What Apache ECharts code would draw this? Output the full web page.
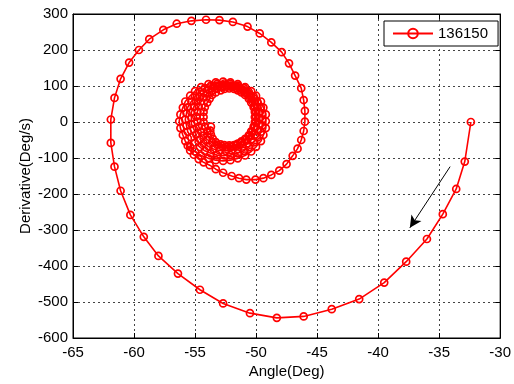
<!DOCTYPE html>
<html>
<head>
<meta charset="utf-8">
<script src="https://cdn.jsdelivr.net/npm/echarts@6.0.0/dist/echarts.min.js"></script>
<style>
  html, body { margin: 0; padding: 0; background: #fff; }
  #chart { width: 514px; height: 384px; }
</style>
</head>
<body>
<div id="chart"></div>
<script>
/** outer swing: angle (deg) and its derivative (deg/s) */
const outerAngle = [
  -32.4, -32.9, -33.6, -34.7, -36.0, -37.7, -39.5, -41.55, -43.8, -46.1,
  -48.3, -50.5, -52.7, -54.6, -56.4, -58.0, -59.2, -60.3, -61.1, -61.6,
  -61.9, -61.9, -61.6, -61.1, -60.4, -59.6, -58.75, -57.6, -56.5, -55.3,
  -54.1, -53.0, -51.9, -50.7, -49.7, -48.75, -47.9, -47.3, -46.8, -46.3,
  -46.1, -46.0, -46.0, -46.1, -46.3, -46.6, -47.0, -47.5, -48.1, -48.75,
  -49.4, -50.05, -50.8, -51.4, -52.0, -52.7, -53.3, -53.8, -54.3, -54.7,
  -55.1, -55.4, -55.6
];
const outerRate = [
  0, -110, -186, -256, -325, -388, -446, -492, -520, -540,
  -544, -531, -504, -466, -421, -372, -319, -258, -191, -124,
  -58, 7, 67, 120, 165, 200, 230, 256, 273, 281,
  284, 283, 278, 265, 246, 221, 194, 163, 129, 94,
  61, 31, 1, -25, -50, -74, -94, -117, -135, -147,
  -156, -160, -160, -156, -150, -141, -131, -120, -112, -103,
  -91, -79, -66
];

/** inner settling turns, estimated from the dense band */
const ring1Angle = [-55.8, -56.0, -56.2, -56.3, -56.2, -56.0, -55.8, -55.4, -55.0, -54.5, -53.9, -53.3, -52.7, -52.1, -51.5, -50.9, -50.4, -50.0, -49.6, -49.4, -49.2, -49.2, -49.2, -49.4, -49.6, -50.0, -50.4, -50.9, -51.5, -52.1, -52.7, -53.3, -53.9, -54.5, -55.0, -55.4];
const ring1Rate = [-53, -36, -17, 2, 21, 40, 57, 73, 86, 97, 105, 110, 112, 110, 105, 97, 86, 73, 57, 40, 21, 2, -17, -36, -53, -69, -82, -93, -101, -106, -108, -106, -101, -93, -82, -69];
const ring2Angle = [-55.3, -55.6, -55.7, -55.8, -55.7, -55.6, -55.3, -55.0, -54.6, -54.2, -53.7, -53.2, -52.6, -52.1, -51.5, -51.0, -50.6, -50.2, -49.9, -49.6, -49.5, -49.5, -49.5, -49.6, -49.9, -50.2, -50.6, -51.0, -51.5, -52.1, -52.6, -53.2, -53.7, -54.2, -54.6, -55.0];
const ring2Rate = [-43, -27, -10, 7, 24, 41, 57, 71, 84, 94, 101, 106, 107, 106, 101, 94, 84, 71, 57, 41, 24, 7, -10, -27, -43, -57, -70, -80, -87, -92, -93, -92, -87, -80, -70, -57];
const ring3Angle = [-54.9, -55.1, -55.3, -55.3, -55.3, -55.1, -54.9, -54.6, -54.3, -53.9, -53.5, -53.0, -52.5, -52.0, -51.5, -51.1, -50.7, -50.4, -50.1, -49.9, -49.7, -49.7, -49.7, -49.9, -50.1, -50.4, -50.7, -51.1, -51.5, -52.0, -52.5, -53.0, -53.5, -53.9, -54.3, -54.6];
const ring3Rate = [-35, -20, -5, 11, 27, 42, 57, 70, 81, 90, 97, 101, 102, 101, 97, 90, 81, 70, 57, 42, 27, 11, -5, -20, -35, -48, -59, -68, -75, -79, -80, -79, -75, -68, -59, -48];
const ring4Angle = [-54.5, -54.7, -54.8, -54.9, -54.8, -54.7, -54.5, -54.3, -54.0, -53.6, -53.2, -52.8, -52.4, -52.0, -51.6, -51.2, -50.8, -50.5, -50.3, -50.1, -50.0, -50.0, -50.0, -50.1, -50.3, -50.5, -50.8, -51.2, -51.6, -52.0, -52.4, -52.8, -53.2, -53.6, -54.0, -54.3];
const ring4Rate = [-27, -13, 1, 15, 29, 43, 57, 68, 79, 87, 93, 97, 98, 97, 93, 87, 79, 68, 57, 43, 29, 15, 1, -13, -27, -38, -49, -57, -63, -67, -68, -67, -63, -57, -49, -38];
const tailAngle = [-54.0, -54.2, -54.3, -54.3, -54.3, -54.2, -54.0, -53.8, -53.6, -53.3, -52.9, -52.6, -52.2, -51.8, -51.5, -51.2, -50.9, -50.6, -50.4, -50.2, -50.1, -50.1, -50.1, -50.2, -50.4, -50.6, -50.9, -51.2, -51.5, -51.8, -52.2, -52.6, -52.9, -53.3, -53.55, -53.7, -53.75, -53.7];
const tailRate = [-26, -13, 0, 14, 28, 41, 54, 65, 75, 82, 88, 92, 93, 92, 88, 82, 75, 65, 54, 41, 28, 14, 0, -13, -26, -37, -47, -54, -60, -64, -65, -64, -62, -56, -46, -35, -24, -13];

/** direction arrow, start and tip in data units */
const arrowFrom = [-34.1, -124];
const arrowTo = [-37.4, -294];

const seriesName = "136150";
const font = "'Liberation Sans', Arial, sans-serif";

const angle = [].concat(outerAngle, ring1Angle, ring2Angle, ring3Angle, ring4Angle, tailAngle);
const rate = [].concat(outerRate, ring1Rate, ring2Rate, ring3Rate, ring4Rate, tailRate);
const points = angle.map((a, i) => [a, rate[i]]);

const tickStyle = { inside: true, length: 5, lineStyle: { color: "#000" } };
const lineBlack = { show: true, onZero: false, lineStyle: { color: "#000", width: 1 } };
const gridLine = { show: true, lineStyle: { color: "#444", width: 1, type: [2, 3] } };
const labelStyle = { color: "#000", fontSize: 15, fontFamily: font };

const chart = echarts.init(document.getElementById("chart"), null, { renderer: "canvas" });

chart.setOption({
  animation: false,
  backgroundColor: "#fff",
  textStyle: { fontFamily: font },
  grid: { left: 73, right: 11, top: 14, bottom: 46, show: true, borderColor: "#000", borderWidth: 1 },
  legend: {
    data: [seriesName],
    left: 384,
    top: 21,
    backgroundColor: "#fff",
    borderColor: "#000",
    borderWidth: 1,
    borderRadius: 0,
    padding: [5, 10, 5, 8],
    itemWidth: 40,
    itemHeight: 12,
    textStyle: { color: "#000", fontSize: 15, fontFamily: font },
  },
  xAxis: [
    {
      type: "value",
      min: -65,
      max: -30,
      interval: 5,
      axisLine: lineBlack,
      axisTick: tickStyle,
      axisLabel: { ...labelStyle, margin: 7 },
      splitLine: gridLine,
      name: "Angle(Deg)",
      nameLocation: "middle",
      nameGap: 26,
      nameMoveOverlap: false,
      nameTextStyle: labelStyle,
    },
    {
      type: "value",
      position: "top",
      min: -65,
      max: -30,
      interval: 5,
      axisLine: lineBlack,
      axisTick: tickStyle,
      axisLabel: { show: false },
      splitLine: { show: false },
    },
  ],
  yAxis: [
    {
      type: "value",
      min: -600,
      max: 300,
      interval: 100,
      axisLine: lineBlack,
      axisTick: tickStyle,
      axisLabel: { ...labelStyle, margin: 5 },
      splitLine: gridLine,
      name: "Derivative(Deg/s)",
      nameLocation: "middle",
      nameGap: 40,
      nameMoveOverlap: false,
      nameTextStyle: labelStyle,
    },
    {
      type: "value",
      position: "right",
      min: -600,
      max: 300,
      interval: 100,
      axisLine: lineBlack,
      axisTick: tickStyle,
      axisLabel: { show: false },
      splitLine: { show: false },
    },
  ],
  series: [
    {
      name: seriesName,
      type: "line",
      data: points,
      symbol: "circle",
      symbolSize: 7,
      showSymbol: true,
      showAllSymbol: true,
      lineStyle: { color: "#f00", width: 1.6 },
      itemStyle: { color: "rgba(255,255,255,0)", borderColor: "#f00", borderWidth: 1.7 },
      markLine: {
        silent: true,
        symbol: ["none", "arrow"],
        symbolSize: [9, 12],
        label: { show: false },
        lineStyle: { color: "#000", width: 1, type: "solid" },
        data: [[{ coord: arrowFrom }, { coord: arrowTo }]],
      },
    },
  ],
});
</script>
</body>
</html>
